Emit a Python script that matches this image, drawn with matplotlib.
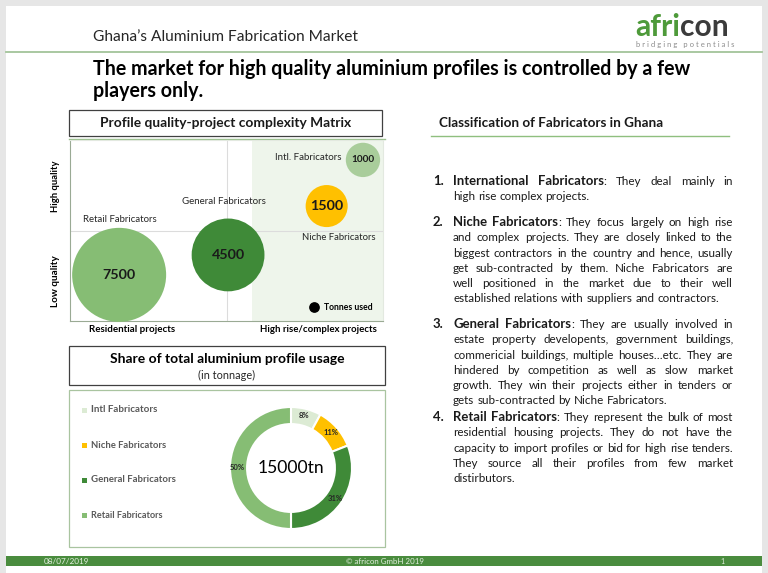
import matplotlib
matplotlib.use("Agg")
import matplotlib.pyplot as plt
from matplotlib.patches import Rectangle

W, H = 768, 573
plt.rcParams['font.family'] = ['Lato', 'DejaVu Sans']

# ---- data ----
fabricators = ["Intl Fabricators", "Niche Fabricators", "General Fabricators", "Retail Fabricators"]
bubble_names = ["Intl. Fabricators", "Niche Fabricators", "General Fabricators", "Retail Fabricators"]
tonnes = [1000, 1500, 4500, 7500]
complexity = [9.36, 8.2, 5.05, 1.57]   # position on the project axis (0-10)
quality = [8.9, 6.35, 3.65, 2.55]      # position on the quality axis (0-10)
share_pct = [8, 11, 31, 50]
total_label = "15000tn"

bubble_colors = ['#a9cd9b', '#ffc000', '#3f8a38', '#86bd74']
donut_colors = ['#dcebd4', '#ffc000', '#3f8a38', '#86bd74']

items = [
    ["International Fabricators: They deal  mainly in",
     "high rise complex projects."],
    ["Niche Fabricators: They focus largely on high rise",
     "and complex projects. They are closely linked to the",
     "biggest contractors in the country and hence, usually",
     "get sub-contracted by them. Niche Fabricators are",
     "well positioned in the market due to their well",
     "established relations with suppliers and contractors."],
    ["General Fabricators: They are usually involved in",
     "estate property developents, government buildings,",
     "commericial buildings, multiple houses\u2026etc. They are",
     "hindered by competition as well as slow market",
     "growth. They win their projects either in tenders or",
     "gets sub-contracted by Niche Fabricators."],
    ["Retail Fabricators: They represent the bulk of most",
     "residential housing projects. They do not have the",
     "capacity to import profiles or bid for high rise tenders.",
     "They source all their profiles from few market",
     "distirbutors."],
]

fig = plt.figure(figsize=(W / 100, H / 100), dpi=100, facecolor='#e6e6e6')
renderer = fig.canvas.get_renderer()
ax = fig.add_axes([0, 0, 1, 1])
ax.set_xlim(0, W)
ax.set_ylim(H, 0)
ax.axis('off')


def fit(t, width):
    bb = t.get_window_extent(renderer)
    t.set_fontsize(t.get_fontsize() * width / bb.width)
    return t


def put(x, y, s, width=None, size=8, **kw):
    t = ax.text(x, y, s, fontsize=size, va='center', **kw)
    if width:
        fit(t, width)
    return t


def wpx(s, size, weight='normal'):
    t = ax.text(0, 0, s, fontsize=size, fontweight=weight)
    w = t.get_window_extent(renderer).width
    t.remove()
    return w


# slide background
ax.add_patch(Rectangle((6, 6), 756, 567, facecolor='white', edgecolor='none'))

# header
put(93, 37, "Ghana\u2019s Aluminium Fabrication Market", width=266, color='#262626')
ax.plot([6, 762], [52, 52], color='#a3c49a', lw=1.3)
logo = put(635, 27, "africon", width=94, fontweight='bold', color='#4e9a3a')
lsize = logo.get_fontsize()
logo.set_text("afri")
ax.text(635 + wpx("afri", lsize, 'bold'), 27, "con", fontsize=lsize, fontweight='bold',
        color='#3b3b3b', va='center')
put(636, 44, "b r i d g i n g   p o t e n t i a l s", width=99, color='#8c8c8c')

# main title
t1 = put(93, 69, "The market for high quality aluminium profiles is controlled by a few",
         width=599, fontweight='bold', color='black')
ax.text(93, 91, "players only.", fontsize=t1.get_fontsize(), fontweight='bold', va='center')

# matrix title box
ax.add_patch(Rectangle((69, 110), 313, 26, facecolor='white', edgecolor='#404040', lw=0.9))
put(226, 123, "Profile quality-project complexity Matrix", width=250, fontweight='bold',
    ha='center', color='#1a1a1a')
ax.plot([69, 385], [139, 139], color='#9cc08f', lw=1)

# right heading
put(439, 123, "Classification of Fabricators in Ghana", width=225, fontweight='bold', color='#1a1a1a')
ax.plot([431, 729], [136, 136], color='#8fbf7f', lw=1)

# matrix axis labels
for txt, y in [("High quality", 186), ("Low quality", 281)]:
    t = ax.text(55, y, txt, fontsize=8, fontweight='bold', ha='center', va='center')
    fit(t, 52)
    t.set_rotation(90)
put(132, 329, "Residential projects", width=86, fontweight='bold', ha='center')
put(318, 329, "High rise/complex projects", width=117, fontweight='bold', ha='center')

# bubble matrix
mx = fig.add_axes([70 / W, (H - 321) / H, 313 / W, 181 / H])
mx.set_xlim(0, 10)
mx.set_ylim(0, 10)
mx.set_xticks([])
mx.set_yticks([])
mx.axvspan(5.8, 10, color='#eef5eb', lw=0)
mx.axvline(5, color='#dcdcdc', lw=0.8)
mx.axhline(5, color='#dcdcdc', lw=0.8)
for side in ['top', 'right']:
    mx.spines[side].set_color('#e3e9e0')
for side in ['left', 'bottom']:
    mx.spines[side].set_color('#9aaa94')
max_r_pt = 47 * 0.72
sizes = [(2 * max_r_pt) ** 2 * v / max(tonnes) for v in tonnes]
mx.scatter(complexity, quality, s=sizes, c=bubble_colors, edgecolors='none', zorder=3, clip_on=False)

name_offsets = [(-55, 2), (12, -31), (-4, 53), (1, 55)]
name_widths = [67, 74, 84, 74]
num_widths = [23, 33, 33, 33]
for i, v in enumerate(tonnes):
    a = mx.annotate(bubble_names[i], (complexity[i], quality[i]), xytext=name_offsets[i],
                    textcoords='offset pixels', ha='center', va='center', fontsize=7,
                    color='#262626', zorder=4)
    fit(a, name_widths[i])
    n = mx.annotate(f"{v}", (complexity[i], quality[i]), ha='center', va='center',
                    fontsize=12, fontweight='bold', color='#1a1a1a', zorder=4)
    fit(n, num_widths[i])
mx.scatter([7.8], [0.75], s=45, color='black', zorder=4)
tu = mx.annotate("Tonnes used", (7.8, 0.75), xytext=(10, 0), textcoords='offset pixels',
                 ha='left', va='center', fontsize=6, fontweight='bold', zorder=4)
fit(tu, 49)

# share box
ax.add_patch(Rectangle((69, 346), 316, 39, facecolor='white', edgecolor='#404040', lw=0.9))
put(227, 359, "Share of total aluminium profile usage", width=236, fontweight='bold', ha='center')
put(227, 375, "(in tonnage)", width=57, ha='center', color='#262626')
ax.add_patch(Rectangle((69, 390), 316, 157, facecolor='white', edgecolor='#a9c4a0', lw=0.9))

leg_y = [410, 445, 480, 515]
leg_w = [66, 75, 85, 72]
for i, name in enumerate(fabricators):
    ax.add_patch(Rectangle((82, leg_y[i] - 2.5), 5, 5, facecolor=donut_colors[i], edgecolor='none'))
    put(91, leg_y[i], name, width=leg_w[i], fontweight='bold', color='#595959')

# donut
cx, cy, r = 291, 468, 61
half = 72
dx = fig.add_axes([(cx - half) / W, (H - cy - half) / H, 2 * half / W, 2 * half / H])
wedges, texts, autotexts = dx.pie(share_pct, colors=donut_colors, startangle=90, counterclock=False,
                                  autopct=lambda p: f"{p:.0f}%", pctdistance=0.885,
                                  wedgeprops=dict(width=0.28, edgecolor='white', linewidth=1.5))
for t in autotexts:
    t.set_fontsize(5.5)
    t.set_fontweight('bold')
    t.set_color('#262626')
dx.set_xlim(-half / r, half / r)
dx.set_ylim(-half / r, half / r)
dx.axis('off')
ct = dx.text(0, 0, total_label, ha='center', va='center', fontsize=14, color='black')
fit(ct, 67)

# classification text, justified
body_size = 8
probe = ax.text(0, 0, items[1][-1], fontsize=body_size)
body_size *= 267 / probe.get_window_extent(renderer).width
probe.remove()
space_w = wpx("x x", body_size) - wpx("xx", body_size)
x0, x1 = 453, 733
item_y = [181, 222, 324, 417]
step = 15.3
base = 4.0  # baseline sits below the visual line centre
for k, lines in enumerate(items):
    ax.text(433, item_y[k] + base, f"{k + 1}.", fontsize=body_size * 1.12, fontweight='bold',
            va='baseline', color='#1a1a1a')
    for j, line in enumerate(lines):
        y = item_y[k] + j * step + base
        words = line.split()
        segs = []
        for wi, w in enumerate(words):
            if j == 0 and wi < 2:
                if w.endswith(':'):
                    segs.append([(w[:-1], 'bold', 1.12), (':', 'normal', 1.0)])
                else:
                    segs.append([(w, 'bold', 1.12)])
            else:
                segs.append([(w, 'normal', 1.0)])
        widths = [sum(wpx(s, body_size * f, wt) for s, wt, f in seg) for seg in segs]
        if j == len(lines) - 1:
            gap = space_w
        else:
            gap = (x1 - x0 - sum(widths)) / (len(segs) - 1)
        x = x0
        for seg, wdt in zip(segs, widths):
            xx = x
            for s, wt, f in seg:
                ax.text(xx, y, s, fontsize=body_size * f, fontweight=wt, va='baseline', color='#1a1a1a')
                xx += wpx(s, body_size * f, wt)
            x += wdt + gap

# footer
ax.add_patch(Rectangle((6, 556), 756, 10, facecolor='#4a8c3e', edgecolor='none'))
put(44, 561, "08/07/2019", width=46, color='#e4efe0')
put(385, 561, "\u00a9 africon GmbH 2019", width=78, ha='center', color='#e4efe0')
put(720, 561, "1", size=5, color='#e4efe0')

fig.savefig("out.png", dpi=100, facecolor=fig.get_facecolor())
